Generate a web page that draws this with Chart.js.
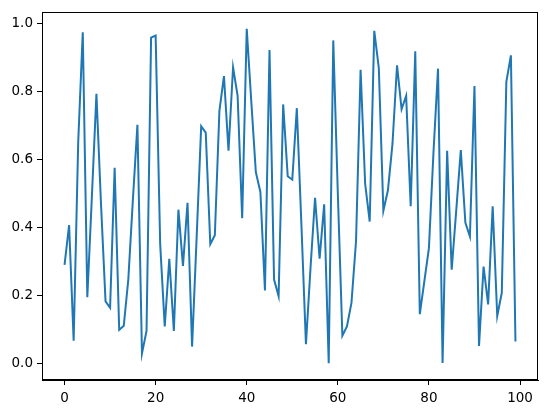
<!DOCTYPE html>
<html>
<head>
<meta charset="utf-8">
<script src="https://cdn.jsdelivr.net/npm/chart.js@4/dist/chart.umd.min.js"></script>
<style>
  body { margin: 0; background: #fff; }
  canvas { display: block; }
</style>
</head>
<body>
<canvas id="myChart" width="547" height="413"></canvas>
<script>
const xTicks = [0, 20, 40, 60, 80, 100]
const yTicks = [0.0, 0.2, 0.4, 0.6, 0.8, 1.0]

const values = [
  0.290, 0.407, 0.067, 0.650, 0.973, 0.195, 0.490, 0.792, 0.470, 0.183,
  0.164, 0.575, 0.099, 0.111, 0.247, 0.480, 0.701, 0.030, 0.096, 0.957,
  0.963, 0.350, 0.109, 0.308, 0.096, 0.452, 0.287, 0.472, 0.050, 0.370,
  0.697, 0.678, 0.351, 0.377, 0.742, 0.844, 0.625, 0.870, 0.786, 0.427,
  0.983, 0.770, 0.562, 0.504, 0.215, 0.921, 0.247, 0.198, 0.761, 0.550,
  0.540, 0.750, 0.410, 0.057, 0.280, 0.487, 0.308, 0.468, 0.001, 0.949,
  0.500, 0.082, 0.109, 0.179, 0.360, 0.863, 0.528, 0.417, 0.977, 0.868,
  0.449, 0.509, 0.645, 0.876, 0.747, 0.786, 0.462, 0.917, 0.145, 0.242,
  0.339, 0.620, 0.866, 0.002, 0.625, 0.276, 0.450, 0.627, 0.414, 0.373,
  0.815, 0.052, 0.285, 0.174, 0.462, 0.140, 0.208, 0.827, 0.905, 0.065
]

const points = values.map((v, i) => ({ x: i, y: v }))

// matplotlib style 5% margins
const xMin = -0.05 * 99, xMax = 99 + 0.05 * 99
const yLo = Math.min(...values), yHi = Math.max(...values)
const yPad = (yHi - yLo) * 0.05

const frame = {
  id: 'frame',
  afterDraw(chart) {
    const { ctx, chartArea: a } = chart
    ctx.save()
    ctx.strokeStyle = '#000'
    ctx.lineWidth = 1
    ctx.strokeRect(Math.round(a.left) + 0.5, Math.round(a.top) + 0.5,
      Math.round(a.right - a.left) - 1, Math.round(a.bottom - a.top) - 1)
    ctx.restore()
  }
}

const tickFont = { family: 'DejaVu Sans', size: 13.5 }

const ctx = document.getElementById('myChart').getContext('2d')
new Chart(ctx, {
  type: 'line',
  data: {
    datasets: [{
      data: points,
      borderColor: '#1f77b4',
      borderWidth: 2,
      pointRadius: 0,
      tension: 0,
      fill: false
    }]
  },
  options: {
    responsive: false,
    animation: false,
    layout: { padding: { top: 10, right: 9, left: 0, bottom: 0 } },
    plugins: { legend: { display: false }, tooltip: { enabled: false } },
    scales: {
      x: {
        type: 'linear',
        min: xMin,
        max: xMax,
        afterBuildTicks: s => { s.ticks = xTicks.map(v => ({ value: v })) },
        afterFit: s => { s.height = 33 },
        grid: { drawOnChartArea: false, drawTicks: true, tickLength: 5, color: '#000' },
        border: { display: true, color: '#000' },
        ticks: { color: '#000', font: tickFont, padding: 5, maxRotation: 0,
                 callback: v => String(v) }
      },
      y: {
        type: 'linear',
        min: yLo - yPad,
        max: yHi + yPad,
        afterBuildTicks: s => { s.ticks = yTicks.map(v => ({ value: v })) },
        afterFit: s => { s.width = 42 },
        grid: { drawOnChartArea: false, drawTicks: true, tickLength: 5, color: '#000' },
        border: { display: true, color: '#000' },
        ticks: { color: '#000', font: tickFont, padding: 4,
                 callback: v => v.toFixed(1) }
      }
    }
  },
  plugins: [frame]
})
</script>
</body>
</html>
